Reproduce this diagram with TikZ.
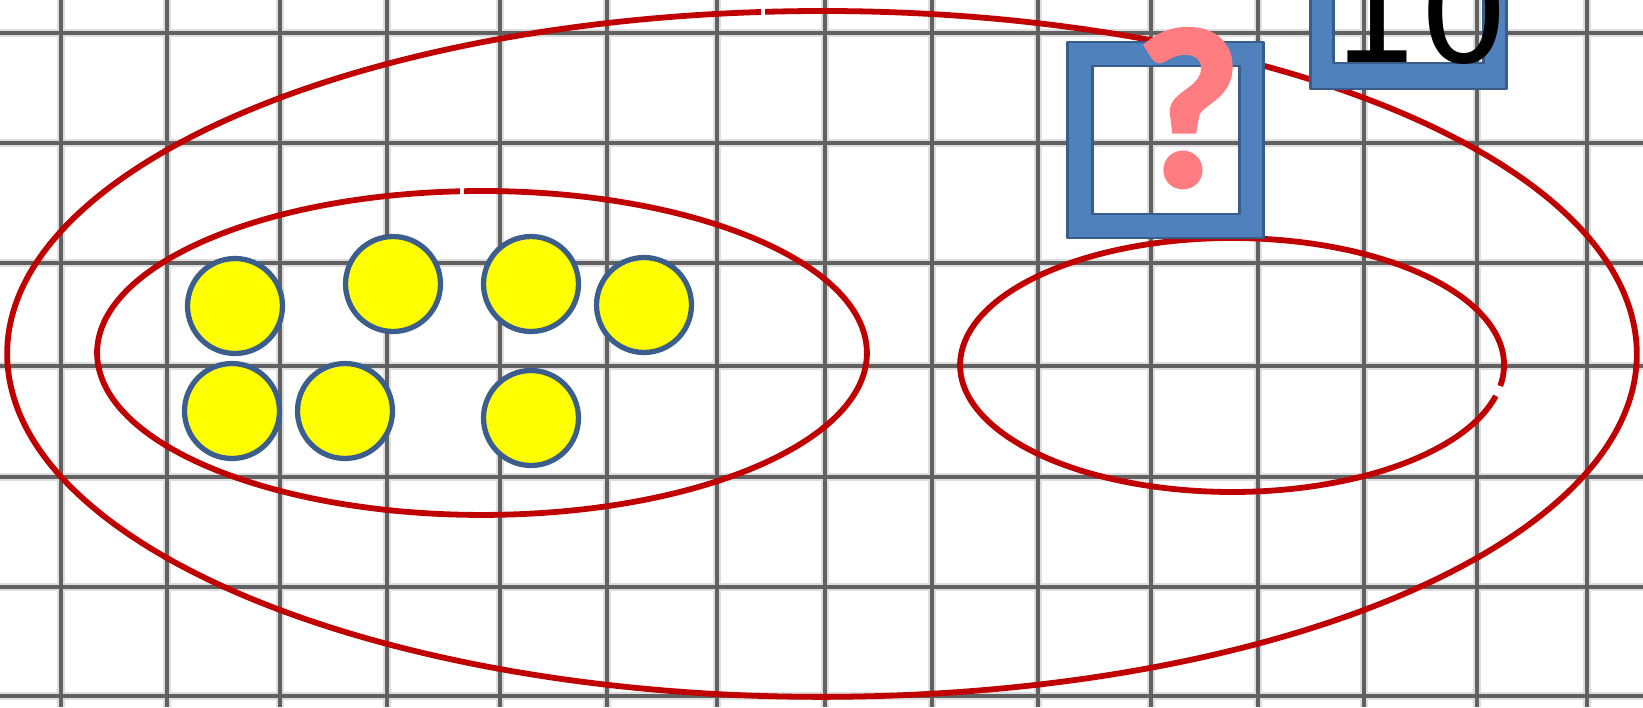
\documentclass[tikz,border=0pt]{standalone}
\usepackage{fontspec}
\newfontfamily\qfont{Carlito}[BoldFeatures={FakeBold=2.5}]
\newfontfamily\digfont{DejaVu Sans}
\definecolor{ellred}{HTML}{C00000}
\definecolor{dotyellow}{HTML}{FFFF00}
\definecolor{dotborder}{HTML}{3B5E8C}
\definecolor{framefill}{HTML}{4F81BD}
\definecolor{frameline}{HTML}{385D8A}
\definecolor{qpink}{HTML}{FF7C80}
\begin{document}
\begin{tikzpicture}[x=0.02cm,y=-0.02cm,
  gridhalo/.style={line width=5pt,black!13},
  gridcore/.style={line width=1.9pt,black!62},
  ring/.style={draw=ellred,line width=3.3pt},
  dot/.style={circle,draw=dotborder,fill=dotyellow,line width=3pt,minimum size=1.9cm,inner sep=0pt,outer sep=0pt},
  framebox/.style={draw=frameline,fill=framefill,line width=1.7pt,even odd rule,line join=round},
  qmark/.style={anchor=base,inner sep=0pt,text=qpink,font=\qfont\bfseries\fontsize{128}{128}\selectfont},
  tentext/.style={anchor=base,inner sep=0pt,text=black,font=\digfont\fontsize{80}{80}\selectfont}]
\useasboundingbox (0,0) rectangle (1643,707);
\clip (0,0) rectangle (1643,707);
\fill[white] (0,0) rectangle (1643,707);
% grid
\foreach \gx in {61,167,280,387,500,607,717,825,932,1038,1151,1258,1364,1477,1587}{
  \draw[gridhalo] (\gx,0) -- (\gx,707);}
\foreach \gy in {33,143,263,366,477,587,696}{
  \draw[gridhalo] (0,\gy) -- (1643,\gy);}
\foreach \gx in {61,167,280,387,500,607,717,825,932,1038,1151,1258,1364,1477,1587}{
  \draw[gridcore] (\gx,0) -- (\gx,707);}
\foreach \gy in {33,143,263,366,477,587,696}{
  \draw[gridcore] (0,\gy) -- (1643,\gy);}
% ellipses
\draw[ring] ({822+815*cos(94.3)},{354-343*sin(94.3)}) arc[start angle=94.3,end angle=454.0,x radius=16.3cm,y radius=6.86cm];
\draw[ring] ({482+385*cos(93.3)},{353-162*sin(93.3)}) arc[start angle=93.3,end angle=452.7,x radius=7.7cm,y radius=3.24cm];
\draw[ring] ({1232+272*cos(-9.5)},{365-127*sin(-9.5)}) arc[start angle=-9.5,end angle=345.9,x radius=5.44cm,y radius=2.54cm];
% dots
\node[dot] (c1) at (235,306) {};
\node[dot] (c2) at (393,284) {};
\node[dot] (c3) at (531,284) {};
\node[dot] (c4) at (644,305) {};
\node[dot] (c5) at (232,411) {};
\node[dot] (c6) at (345,411) {};
\node[dot] (c7) at (531,418) {};
% frames
\draw[framebox] (1067,42) rectangle (1263,238) (1092,66) rectangle (1239,214);
\draw[framebox] (1310,-107) rectangle (1506,89) (1333,-83) rectangle (1483,63);
% texts
\node[qmark] (q) at (1188,185) {?};
\node[tentext] (ten) at (1420,62) {10};
\end{tikzpicture}
\end{document}
